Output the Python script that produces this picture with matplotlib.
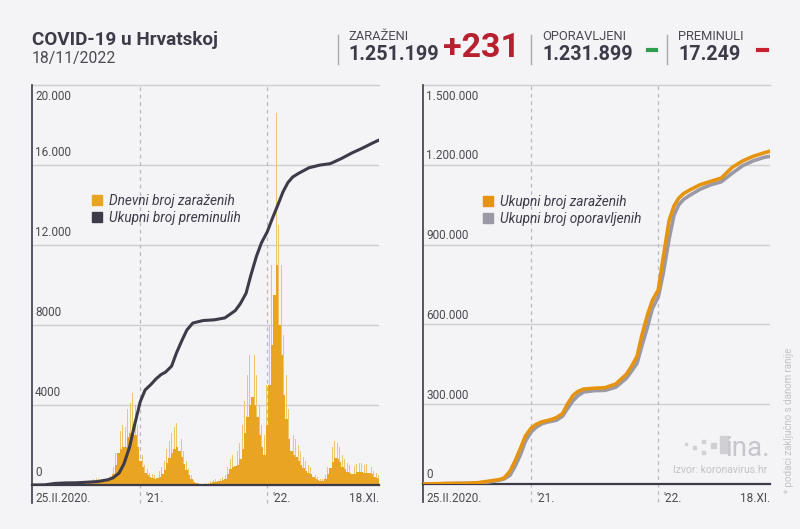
import matplotlib
matplotlib.use("Agg")
import matplotlib.pyplot as plt
from matplotlib.lines import Line2D
import pandas as pd

# ---------------- data ----------------
start_date = "2020-02-25"
end_date = "2022-11-18"

# daily new cases, per week starting 25.II.2020: peak day of the week
weekly_peak = [
    3, 5, 20, 60, 90, 100, 70, 50, 30, 15, 10, 5, 3, 2, 5, 20, 60, 95, 90, 120,
    100, 60, 90, 150, 200, 300, 350, 300, 250, 250, 280, 350, 450, 900, 1600, 2600, 2700, 3000, 2900, 3800,
    4100, 4600, 4000, 3000, 2000, 1500, 1000, 800, 600, 550, 500, 600, 700, 900, 1200, 1800, 2200, 2600, 2900, 3100,
    2800, 2300, 1700, 1200, 800, 500, 250, 150, 100, 70, 60, 80, 120, 200, 250, 280, 300, 320, 400, 500,
    900, 1300, 1500, 1600, 1700, 2100, 3000, 4200, 5500, 6500, 7200, 6500, 5500, 4000, 3000, 2500, 5000, 8000, 11000, 16000,
    18600, 13000, 11000, 7500, 5500, 3800, 2800, 2500, 2300, 2000, 1700, 1400, 1200, 1000, 900, 700, 500, 400, 300, 300,
    500, 900, 1400, 1900, 2200, 2100, 1900, 1500, 1300, 1100, 1000, 900, 950, 1050, 1100, 1100, 1000, 1050, 1000, 900,
    700, 600, 500,
]
# daily new cases, per week: typical (weekday) level
weekly_base = [
    2, 3, 12, 40, 60, 65, 45, 30, 18, 10, 6, 3, 2, 1, 3, 12, 40, 60, 55, 75,
    65, 40, 55, 90, 130, 190, 220, 190, 160, 160, 180, 220, 290, 550, 1000, 1600, 1800, 1900, 1900, 2400,
    2600, 2900, 2500, 1900, 1200, 900, 600, 480, 380, 330, 300, 360, 420, 550, 750, 1100, 1350, 1600, 1800, 1900,
    1700, 1400, 1050, 750, 500, 300, 150, 90, 60, 40, 35, 50, 75, 120, 150, 170, 180, 190, 240, 300,
    550, 800, 900, 950, 1000, 1300, 1800, 2600, 3400, 4000, 4400, 4000, 3400, 2500, 1900, 1500, 3000, 5000, 7000, 9500,
    11000, 8000, 6500, 4500, 3300, 2300, 1700, 1500, 1400, 1200, 1000, 850, 700, 600, 550, 420, 300, 240, 180, 180,
    300, 550, 850, 1150, 1350, 1300, 1150, 900, 800, 650, 600, 550, 570, 630, 650, 650, 600, 620, 600, 540,
    420, 360, 300,
]

cum_dates = [
    "2020-02-25", "2020-04-01", "2020-05-01", "2020-06-01", "2020-07-01", "2020-08-01",
    "2020-09-01", "2020-10-01", "2020-10-15", "2020-11-01", "2020-11-15", "2020-12-01",
    "2020-12-15", "2021-01-01", "2021-01-15", "2021-02-01", "2021-02-15", "2021-03-01",
    "2021-03-15", "2021-04-01", "2021-04-15", "2021-05-01", "2021-05-15", "2021-06-01",
    "2021-07-01", "2021-08-01", "2021-09-01", "2021-10-01", "2021-10-15", "2021-11-01",
    "2021-11-15", "2021-12-01", "2021-12-15", "2022-01-01", "2022-01-15", "2022-02-01",
    "2022-02-15", "2022-03-01", "2022-03-15", "2022-04-01", "2022-05-01", "2022-06-01",
    "2022-07-01", "2022-08-01", "2022-09-01", "2022-10-01", "2022-11-01", "2022-11-18",
]

cum_deaths = [
    0, 6, 79, 103, 109, 139,
    174, 266, 360, 594, 1050, 1876,
    2950, 4164, 4750, 5032, 5300, 5512,
    5650, 5941, 6600, 7236, 7750, 8097,
    8225, 8257, 8354, 8720, 9050, 9584,
    10500, 11442, 12100, 12661, 13300, 14029,
    14650, 15114, 15400, 15583, 15863, 15995,
    16068, 16315, 16600, 16840, 17110, 17249,
]

cum_infected = [
    0, 867, 2076, 2247, 2831, 4881,
    10725, 16593, 22500, 48000, 85000, 134000,
    180000, 210837, 224000, 234000, 238000, 243000,
    250000, 265000, 300000, 333000, 348000, 357000,
    360000, 362000, 376000, 412000, 440000, 480000,
    560000, 636000, 690000, 730000, 850000, 990000,
    1045000, 1075000, 1092000, 1105000, 1125000, 1138000,
    1150000, 1190000, 1215000, 1232000, 1245000, 1251199,
]

cum_recovered = [
    0, 67, 1289, 2063, 2181, 2900,
    7500, 14500, 19000, 33000, 65000, 110000,
    160000, 196000, 213000, 227000, 232000, 236000,
    240000, 255000, 283000, 313000, 332000, 346000,
    351000, 352000, 364000, 397000, 422000, 454000,
    520000, 590000, 660000, 703000, 790000, 920000,
    1010000, 1050000, 1070000, 1085000, 1108000, 1125000,
    1136000, 1168000, 1197000, 1215000, 1228000, 1231899,
]

left_yticks = [0, 4000, 8000, 12000, 16000]
left_ylabels = ["0", "4000", "8000", "12.000", "16.000"]
left_top_label = "20.000"
right_yticks = [0, 300000, 600000, 900000, 1200000]
right_ylabels = ["0", "300.000", "600.000", "900.000", "1.200.000"]
right_top_label = "1.500.000"
year_lines = ["2021-01-01", "2022-01-01"]
year_labels = ["'21.", "'22."]
first_label = "25.II.2020."
last_label = "18.XI."

header_title = "COVID-19 u Hrvatskoj"
header_date = "18/11/2022"
stat_names = ["ZARAŽENI", "OPORAVLJENI", "PREMINULI"]
stat_values = ["1.251.199", "1.231.899", "17.249"]
stat_change = "+231"

# ---------------- style ----------------
BG = "#f4f4f6"
DARK = "#3d3a4a"
BAR = "#e9a521"
BAR_LIGHT = "#f0c46a"
ORANGE = "#e6930f"
GREY = "#9b99a6"
GRID = "#cfcfd3"
TXT = "#4a4a52"
FONT = ["Roboto", "DejaVu Sans"]
plt.rcParams["font.family"] = FONT
TICK_FS = 8.5

fig = plt.figure(figsize=(8, 5.29), dpi=100, facecolor=BG)

W, H = 800, 529
def axrect(x0, y0, x1, y1):
    return [x0 / W, (H - y1) / H, (x1 - x0) / W, (y1 - y0) / H]

axL = fig.add_axes(axrect(32, 85, 379, 485))
axR = fig.add_axes(axrect(423, 85, 770, 484))

t0 = pd.Timestamp(start_date)
t1 = pd.Timestamp(end_date)
week_dates = [t0 + pd.Timedelta(days=7 * i) for i in range(len(weekly_peak))]
peak_dates = [d + pd.Timedelta(days=1) for d in week_dates]
cdates = pd.to_datetime(cum_dates)

def style_axis(ax, ymax, yticks, ylabels, toplabel, off):
    ax.set_facecolor(BG)
    ax.set_xlim(t0, t1)
    ax.set_ylim(0, ymax)
    for s in ["top", "right"]:
        ax.spines[s].set_visible(False)
    ax.spines["left"].set_color(DARK)
    ax.spines["left"].set_linewidth(1.2)
    ax.spines["bottom"].set_color(DARK)
    ax.spines["bottom"].set_linewidth(1.6)
    ax.set_xticks([])
    ax.set_yticks([])
    for v in yticks[1:]:
        ax.axhline(v, color=GRID, lw=1, zorder=0)
    ax.axhline(ymax, color=GRID, lw=1, zorder=0, clip_on=False)
    for v, lab in zip(yticks, ylabels):
        ax.annotate(lab, xy=(0, v), xycoords=("axes fraction", "data"),
                    xytext=(3, off), textcoords="offset pixels",
                    ha="left", va="center", fontsize=TICK_FS, color=TXT)
    ax.annotate(toplabel, xy=(0, ymax), xycoords=("axes fraction", "data"),
                xytext=(3, -12), textcoords="offset pixels",
                ha="left", va="center", fontsize=TICK_FS, color=TXT)
    for d, lab in zip(year_lines, year_labels):
        dd = pd.Timestamp(d)
        ax.plot([dd, dd], [-0.045, 1], transform=ax.get_xaxis_transform(),
                color="#b9b9bf", lw=0.9, ls=(0, (3, 3)), clip_on=False, zorder=0)
        ax.annotate(lab, xy=(dd, 0), xycoords=("data", "axes fraction"),
                    xytext=(5, -14), textcoords="offset pixels",
                    ha="left", va="center", fontsize=TICK_FS, color=TXT)
    ax.annotate(first_label, xy=(0, 0), xycoords="axes fraction",
                xytext=(3, -14), textcoords="offset pixels",
                ha="left", va="center", fontsize=TICK_FS, color=TXT)
    ax.annotate(last_label, xy=(1, 0), xycoords="axes fraction",
                xytext=(0, -14), textcoords="offset pixels",
                ha="right", va="center", fontsize=TICK_FS, color=TXT)
    ax.plot([0, 0], [-0.045, 0], transform=ax.transAxes, color=DARK, lw=1.2, clip_on=False)

style_axis(axL, 20000, left_yticks, left_ylabels, left_top_label, 12)
style_axis(axR, 1500000, right_yticks, right_ylabels, right_top_label, 9)

# left chart: weekly spikes (thin) over the weekly body
axL.bar(peak_dates, weekly_peak, width=2.5, align="edge", color=BAR_LIGHT, lw=0, zorder=2)
axL.bar(week_dates, weekly_base, width=7, align="edge", color=BAR, lw=0, zorder=2.5)
axL.plot(cdates, cum_deaths, color=DARK, lw=2.2, zorder=3, solid_capstyle="round")
handlesL = [Line2D([], [], marker="s", ls="", color=BAR, markersize=6.5),
            Line2D([], [], marker="s", ls="", color=DARK, markersize=6.5)]
axL.legend(handlesL, ["Dnevni broj zaraženih", "Ukupni broj preminulih"],
           loc="upper left", bbox_to_anchor=(0.152, 0.745), frameon=False,
           prop={"style": "italic", "size": 9.8, "family": FONT}, labelcolor=DARK,
           handlelength=0.8, handletextpad=0.5, labelspacing=0.25, borderpad=0)

# right chart
axR.plot(cdates, cum_recovered, color=GREY, lw=2.6, zorder=3)
axR.plot(cdates, cum_infected, color=ORANGE, lw=2.6, zorder=4)
handlesR = [Line2D([], [], marker="s", ls="", color=ORANGE, markersize=6.5),
            Line2D([], [], marker="s", ls="", color=GREY, markersize=6.5)]
axR.legend(handlesR, ["Ukupni broj zaraženih", "Ukupni broj oporavljenih"],
           loc="upper left", bbox_to_anchor=(0.152, 0.742), frameon=False,
           prop={"style": "italic", "size": 9.8, "family": FONT}, labelcolor=DARK,
           handlelength=0.8, handletextpad=0.5, labelspacing=0.25, borderpad=0)

# ---------------- header ----------------
def fx(x): return x / W
def fy(y): return 1 - y / H

fig.text(fx(32), fy(40), header_title, fontsize=13.6, fontweight="bold", color=DARK, va="center", ha="left")
fig.text(fx(32), fy(59), header_date, fontsize=11.3, color=TXT, va="center", ha="left")

sep_x = [338, 531, 667]
for x in sep_x:
    fig.add_artist(Line2D([fx(x), fx(x)], [fy(35), fy(64)], color="#a8a8ae", lw=1))

name_x = [348, 542, 678]
for x, n, v in zip(name_x, stat_names, stat_values):
    fig.text(fx(x), fy(37), n, fontsize=9.3, color=TXT, va="center", ha="left")
    fig.text(fx(x), fy(55), v, fontsize=14.2, fontweight="bold", color=DARK, va="center", ha="left")
fig.text(fx(443), fy(48), stat_change, fontsize=24.5, fontweight="bold", color="#b7202e", va="center", ha="left")
fig.add_artist(Line2D([fx(648), fx(656)], [fy(50), fy(50)], color="#2f9e4f", lw=3))
fig.add_artist(Line2D([fx(758), fx(767)], [fy(50), fy(50)], color="#c8202e", lw=3))

# ---------------- footer / source ----------------
fig.text(fx(789), fy(420), "* podaci zaključno s danom ranije", rotation=90, fontsize=7,
         color="#c2c2c8", ha="center", va="center")
fig.text(fx(767), fy(470), "Izvor: koronavirus.hr", fontsize=7.5, color="#c2c2c8", ha="right", va="center")
fig.text(fx(770), fy(449), "ina.", fontsize=20, color="#c6c6cc", ha="right", va="center")
sq = [(720, 440, 8), (720, 449, 8), (711, 445, 5), (702, 441, 3), (702, 452, 3), (693, 447, 3), (685, 444, 2)]
for (x, y, s) in sq:
    fig.add_artist(plt.Rectangle((fx(x), fy(y + s / 2)), s / W, s / H, color="#cfcfd4", transform=fig.transFigure))

fig.savefig("out.png", dpi=100, facecolor=BG)
